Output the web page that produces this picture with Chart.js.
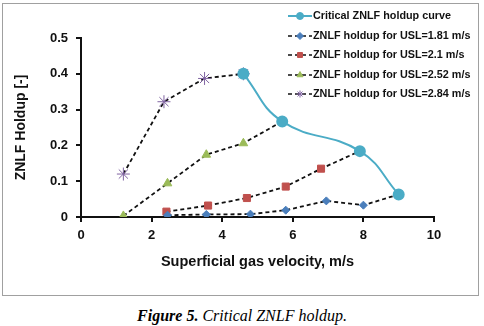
<!DOCTYPE html>
<html>
<head>
<meta charset="utf-8">
<script src="https://cdn.jsdelivr.net/npm/chart.js@4"></script>
<style>
  html, body { margin: 0; padding: 0; background: #fff; }
  body { width: 484px; height: 326px; position: relative; overflow: hidden; }
  #frame {
    position: absolute; left: 2px; top: 3px; width: 475px; height: 291px;
    border: 1px solid #a0a0a0;
  }
  #caption {
    position: absolute; left: 0; top: 307px; width: 484px; text-align: center;
    font-family: "Liberation Serif", "Times New Roman", serif; font-size: 16px; font-style: italic;
    color: #000;
  }
  #caption b { font-weight: bold; }
</style>
</head>
<body>
<div id="frame"><canvas id="chart" width="475" height="291"></canvas></div>
<div id="caption"><b>Figure 5.</b> Critical ZNLF holdup.</div>

<script>
// Values
const criticalX = [4.6, 5.7, 7.9, 9.0];
const criticalY = [0.400, 0.267, 0.184, 0.063];

const usl181X = [2.45, 3.55, 4.8, 5.8, 6.95, 8.0, 9.0];
const usl181Y = [0.005, 0.007, 0.008, 0.019, 0.045, 0.033, 0.063];

const usl21X = [2.42, 3.6, 4.7, 5.8, 6.8, 7.9];
const usl21Y = [0.015, 0.032, 0.053, 0.085, 0.135, 0.184];

const usl252X = [1.2, 2.45, 3.55, 4.6, 5.7];
const usl252Y = [0.003, 0.094, 0.174, 0.206, 0.267];

const usl284X = [1.2, 2.35, 3.5, 4.6];
const usl284Y = [0.120, 0.322, 0.387, 0.400];

const seriesLabels = [
  'Critical ZNLF holdup curve',
  'ZNLF holdup for USL=1.81 m/s',
  'ZNLF holdup for USL=2.1 m/s',
  'ZNLF holdup for USL=2.52 m/s',
  'ZNLF holdup for USL=2.84 m/s'
];

const xTitle = 'Superficial gas velocity, m/s';
const yTitle = 'ZNLF Holdup [-]';

const FONT = '"Liberation Sans", Arial, sans-serif';

function toPoints(xs, ys) {
  return xs.map((x, i) => ({ x: x, y: ys[i] }));
}

function dashed(label, xs, ys, style, color, radius) {
  return {
    label: label,
    data: toPoints(xs, ys),
    borderColor: '#111',
    borderWidth: 1.8,
    borderDash: [4, 3],
    tension: 0,
    pointStyle: style,
    pointRadius: radius,
    pointBackgroundColor: color,
    pointBorderColor: color,
    pointBorderWidth: 1
  };
}

// custom legend drawn at the top right, over the plot like in the original
const legendPlugin = {
  id: 'cornerLegend',
  afterDraw(chart) {
    const ctx = chart.ctx;
    const x0 = 285, x1 = 309, tx = 310;
    const ys = [12, 32, 51, 71, 90];
    ctx.save();
    chart.data.datasets.forEach((ds, i) => {
      const y = ys[i];
      ctx.beginPath();
      ctx.setLineDash(ds.borderDash || []);
      ctx.strokeStyle = ds.borderColor;
      ctx.lineWidth = i === 0 ? 2 : 1.6;
      ctx.moveTo(x0, y);
      ctx.lineTo(x1, y);
      ctx.stroke();
      ctx.setLineDash([]);
      ctx.fillStyle = ds.pointBackgroundColor;
      ctx.strokeStyle = ds.pointBorderColor;
      ctx.lineWidth = 1;
      Chart.helpers.drawPoint(ctx, {
        pointStyle: ds.pointStyle,
        radius: 3.5,
        rotation: 0,
        borderWidth: 1
      }, (x0 + x1) / 2, y);
      ctx.fillStyle = '#111';
      ctx.font = 'bold 10.8px ' + FONT;
      ctx.textBaseline = 'middle';
      ctx.textAlign = 'left';
      ctx.fillText(ds.label, tx, y + 0.5);
    });
    ctx.restore();
  }
};

const chart = new Chart(document.getElementById('chart'), {
  type: 'line',
  data: {
    datasets: [
      {
        label: seriesLabels[0],
        data: toPoints(criticalX, criticalY),
        borderColor: '#4bacc6',
        borderWidth: 2,
        tension: 0.45,
        pointStyle: 'circle',
        pointRadius: 5,
        pointBackgroundColor: '#4bacc6',
        pointBorderColor: '#4bacc6'
      },
      dashed(seriesLabels[1], usl181X, usl181Y, 'rectRot', '#4a7ebb', 4),
      dashed(seriesLabels[2], usl21X, usl21Y, 'rect', '#c0504d', 5),
      dashed(seriesLabels[3], usl252X, usl252Y, 'triangle', '#9bbb59', 5),
      dashed(seriesLabels[4], usl284X, usl284Y, 'star', '#8064a2', 6.5)
    ]
  },
  options: {
    responsive: false,
    animation: false,
    layout: { padding: { left: 0, right: 44, top: 34, bottom: 0 } },
    plugins: {
      legend: { display: false },
      tooltip: { enabled: false }
    },
    scales: {
      x: {
        type: 'linear',
        min: 0,
        max: 10,
        ticks: {
          stepSize: 2,
          color: '#111',
          padding: 6,
          maxRotation: 0,
          font: { family: FONT, size: 13, weight: 'bold' }
        },
        grid: { drawOnChartArea: false, drawTicks: true, tickLength: 5, color: '#111', lineWidth: 2 },
        border: { color: '#111', width: 2 },
        title: {
          display: true,
          text: xTitle,
          color: '#111',
          padding: { top: 6, bottom: 24 },
          font: { family: FONT, size: 14.5, weight: 'bold' }
        },
        afterFit(scale) { scale.height = 78; }
      },
      y: {
        type: 'linear',
        min: 0,
        max: 0.5,
        ticks: {
          stepSize: 0.1,
          color: '#111',
          padding: 8,
          font: { family: FONT, size: 13, weight: 'bold' }
        },
        grid: { drawOnChartArea: false, drawTicks: true, tickLength: 5, color: '#111', lineWidth: 2 },
        border: { color: '#111', width: 2 },
        title: {
          display: true,
          text: yTitle,
          color: '#111',
          padding: { top: 10, bottom: 0 },
          font: { family: FONT, size: 14, weight: 'bold' }
        },
        afterFit(scale) { scale.width = 78; }
      }
    }
  },
  plugins: [legendPlugin]
});
</script>
</body>
</html>
